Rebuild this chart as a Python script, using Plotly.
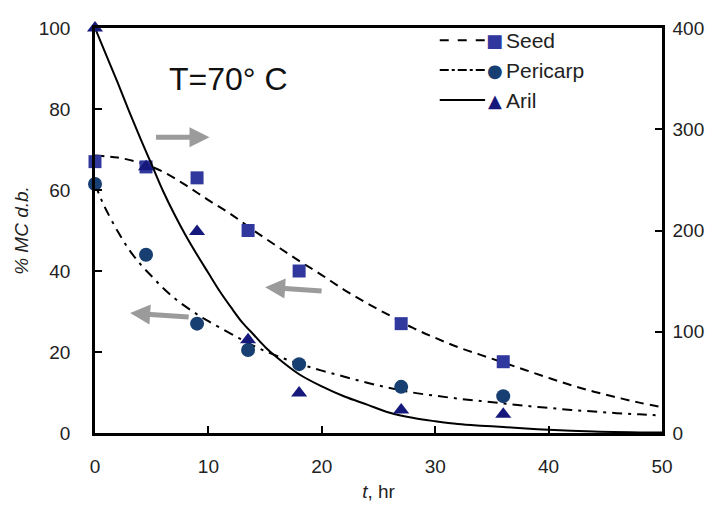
import plotly.graph_objects as go

# ---- data ----
t_points = [0, 4.5, 9, 13.5, 18, 27, 36]
seed_mc = [67, 65.7, 63, 50, 40, 27, 17.6]          # left axis (% MC d.b.)
pericarp_mc = [61.5, 44, 27, 20.5, 17, 11.4, 9.1]   # left axis
aril_mc = [400, 263, 199, 92, 39.5, 22.7, 18.5]     # right axis

seed_fit_t = [0, 2, 4, 6, 8, 10, 12, 14, 16, 18, 20, 22, 24, 26, 28, 30, 32, 34, 36, 38, 40, 42, 44, 46, 48, 50]
seed_fit = [68.5, 68, 66.7, 64.5, 61.2, 57.5, 54, 50, 46.2, 42.5, 39, 35.3, 32, 29, 26, 23.5, 21.2, 19.3, 17.4, 15.5, 13.6, 11.8, 10.2, 8.8, 7.5, 6.4]

peri_fit_t = [0, 0.5, 1, 2, 3, 4, 5, 6, 7, 8, 9, 10, 12, 14, 16, 18, 20, 22, 24, 26, 28, 30, 32, 34, 36, 38, 40, 42, 44, 46, 48, 50]
peri_fit = [61.5, 58, 55, 49.8, 45.3, 41.7, 38.7, 35.8, 33.3, 31.2, 29.3, 27.6, 24.5, 21.5, 19.1, 17.1, 15.4, 13.9, 12.4, 11.1, 10, 9.2, 8.5, 7.9, 7.3, 6.7, 6.2, 5.7, 5.3, 4.9, 4.6, 4.3]

aril_fit_t = [0, 1, 2, 3, 4, 5, 6, 7, 8, 9, 10, 11, 12, 13, 14, 15, 16, 18, 20, 22, 24, 26, 28, 30, 32, 34, 36, 38, 40, 44, 50]
aril_fit = [400, 373, 346, 318, 291, 265, 239, 216, 195, 176, 158, 140, 124, 109, 97, 85, 75, 58, 46, 36, 28, 20, 15, 11.6, 8.8, 7.2, 6, 4.4, 3.2, 1.6, 0.4]

x_ticks = [0, 10, 20, 30, 40, 50]
y_ticks = [0, 20, 40, 60, 80, 100]
y2_ticks = [0, 100, 200, 300, 400]

FONT = "Liberation Sans, Arial, sans-serif"
SQ_C = "#30389E"
CI_C = "#173F72"
TR_C = "#16197C"

fig = go.Figure()

fig.add_trace(go.Scatter(x=seed_fit_t, y=seed_fit, mode="lines", line=dict(color="black", width=2, dash="9px,6px", shape="spline"), showlegend=False))
fig.add_trace(go.Scatter(x=peri_fit_t, y=peri_fit, mode="lines", line=dict(color="black", width=2, dash="10px,6px,3px,6px", shape="spline"), showlegend=False))
fig.add_trace(go.Scatter(x=aril_fit_t, y=aril_fit, mode="lines", yaxis="y2", line=dict(color="black", width=2, shape="spline"), showlegend=False))

fig.add_trace(go.Scatter(x=t_points, y=seed_mc, mode="markers", marker=dict(symbol="square", size=13, color=SQ_C), showlegend=False, cliponaxis=False))
fig.add_trace(go.Scatter(x=t_points, y=pericarp_mc, mode="markers", marker=dict(symbol="circle", size=14, color=CI_C), showlegend=False, cliponaxis=False))
fig.add_trace(go.Scatter(x=t_points, y=aril_mc, mode="markers", yaxis="y2", marker=dict(symbol="triangle-up", size=14, color=TR_C), showlegend=False, cliponaxis=False))

# manual legend (paper coordinates)
legend_rows = [("Seed", "dash", "■", SQ_C, 0.970), ("Pericarp", "dashdot", "●", CI_C, 0.896), ("Aril", "solid", "▲", TR_C, 0.822)]
for name, dsh, glyph, col, yp in legend_rows:
    fig.add_shape(type="line", xref="paper", yref="paper", x0=0.608, x1=0.688, y0=yp, y1=yp,
                  line=dict(color="black", width=2, dash=dsh))
    fig.add_annotation(xref="paper", yref="paper", x=0.705, y=yp, text=glyph, showarrow=False,
                       font=dict(size=18, color=col, family="DejaVu Sans"), xanchor="center", yanchor="middle")
    fig.add_annotation(xref="paper", yref="paper", x=0.722, y=yp, text=name, showarrow=False,
                       font=dict(size=21, color="#222", family=FONT), xanchor="left", yanchor="middle")

fig.add_annotation(xref="paper", yref="paper", x=0.235, y=0.873, text="T=70° C", showarrow=False,
                   font=dict(size=32, color="#111", family=FONT), xanchor="center", yanchor="middle")

# arrows
ARROW = "#9B9B9B"
for hx, hy, ax, ay in [(10.1, 73, -55, 0), (15.0, 36, 58, 4), (3.1, 29.6, 60, 4)]:
    fig.add_annotation(x=hx, y=hy, xref="x", yref="y", ax=ax, ay=ay, showarrow=True,
                       arrowhead=2, arrowsize=0.8, arrowwidth=5, arrowcolor=ARROW, text="")

axis_common = dict(showgrid=False, zeroline=False, showline=True, linecolor="black", linewidth=2.5,
                   ticks="inside", ticklen=7, tickwidth=1.5, tickcolor="black",
                   tickfont=dict(family=FONT, size=19, color="#222"))

fig.update_layout(
    width=715, height=513,
    margin=dict(l=95, r=53, t=28, b=80),
    plot_bgcolor="white", paper_bgcolor="white",
    xaxis=dict(range=[0, 50], tickvals=x_ticks, mirror=True, ticklabelstandoff=14,
               title=dict(text="<i>t</i>, hr", font=dict(family=FONT, size=19, color="#222"), standoff=10),
               **axis_common),
    yaxis=dict(range=[0, 100], tickvals=y_ticks, ticklabelstandoff=18,
               title=dict(text="<i>% MC d.b.</i>", font=dict(family=FONT, size=19, color="#222"), standoff=6),
               **axis_common),
    yaxis2=dict(range=[0, 400], tickvals=y2_ticks, overlaying="y", side="right", ticklabelstandoff=4, **axis_common),
)

fig.write_html("out.html")
